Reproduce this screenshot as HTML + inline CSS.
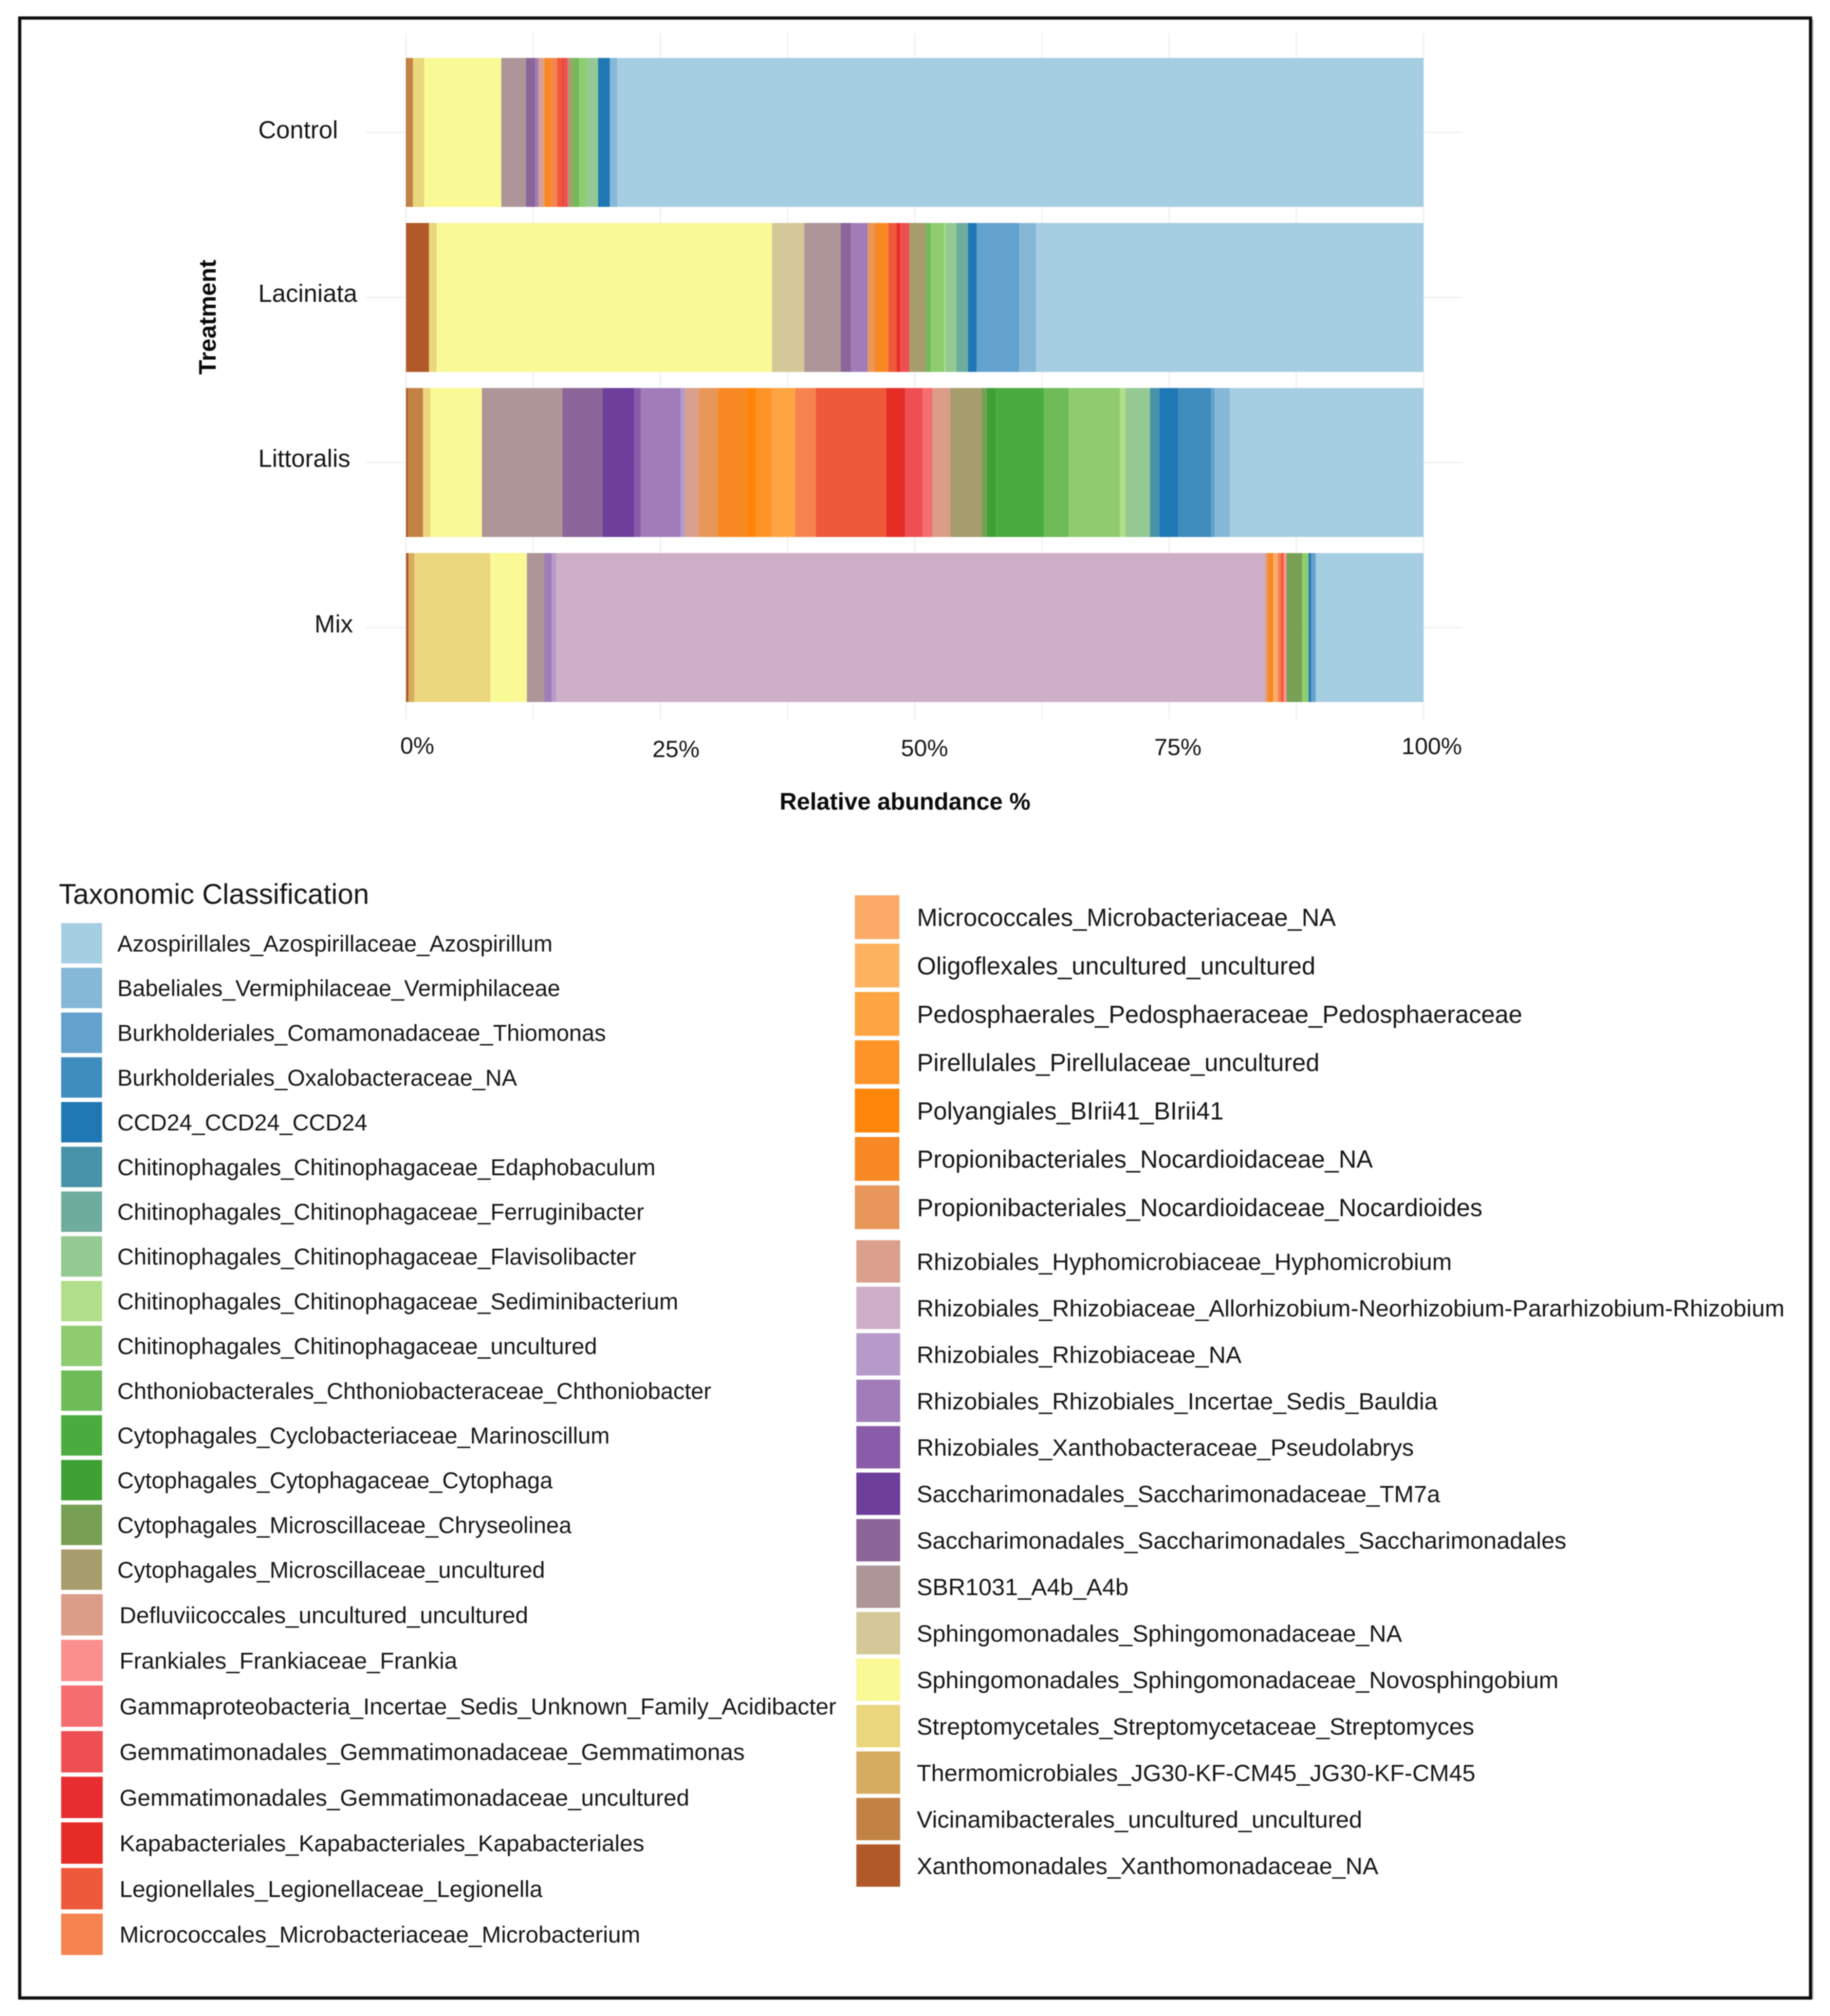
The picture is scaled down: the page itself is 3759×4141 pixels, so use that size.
<!DOCTYPE html>
<html lang="en">
<head>
<meta charset="utf-8">
<title>Relative abundance by treatment</title>
<style>
html,body{margin:0;padding:0;background:#fff;width:3759px;height:4141px;overflow:hidden}
svg{display:block;filter:blur(1px)}
text{font-family:"Liberation Sans",Arial,sans-serif;fill:#151515}
</style>
</head>
<body>
<svg id="figure" xmlns="http://www.w3.org/2000/svg" width="3759" height="4141" viewBox="0 0 3759 4141">
  <rect x="0" y="0" width="3759" height="4141" fill="#fff"/>
  <rect x="3722" y="40" width="3" height="4067" fill="#bbb"/>
  <rect x="40.5" y="37" width="3678.5" height="4067" fill="none" stroke="#0a0a0a" stroke-width="6.5"/>
  <g id="grid"></g>
  <g id="bars"></g>
  <g id="yticks"></g>
  <g id="xticks"></g>
  <text transform="translate(443,651.5) rotate(-90)" text-anchor="middle" font-size="49.4" font-weight="700" style="fill:#0a0a0a">Treatment</text>
  <text x="1859" y="1663" text-anchor="middle" font-size="48.8" font-weight="700" style="fill:#0a0a0a">Relative abundance %</text>
  <text x="121" y="1856.5" font-size="58.2">Taxonomic Classification</text>
  <g id="legend"></g>
</svg>
<script>
const treatments = ["Control", "Laciniata", "Littoralis", "Mix"];
const xTickLabels = ["0%", "25%", "50%", "75%", "100%"];
const xTickValues = [0, 25, 50, 75, 100];
const taxa = [
"Azospirillales_Azospirillaceae_Azospirillum",
"Babeliales_Vermiphilaceae_Vermiphilaceae",
"Burkholderiales_Comamonadaceae_Thiomonas",
"Burkholderiales_Oxalobacteraceae_NA",
"CCD24_CCD24_CCD24",
"Chitinophagales_Chitinophagaceae_Edaphobaculum",
"Chitinophagales_Chitinophagaceae_Ferruginibacter",
"Chitinophagales_Chitinophagaceae_Flavisolibacter",
"Chitinophagales_Chitinophagaceae_Sediminibacterium",
"Chitinophagales_Chitinophagaceae_uncultured",
"Chthoniobacterales_Chthoniobacteraceae_Chthoniobacter",
"Cytophagales_Cyclobacteriaceae_Marinoscillum",
"Cytophagales_Cytophagaceae_Cytophaga",
"Cytophagales_Microscillaceae_Chryseolinea",
"Cytophagales_Microscillaceae_uncultured",
"Defluviicoccales_uncultured_uncultured",
"Frankiales_Frankiaceae_Frankia",
"Gammaproteobacteria_Incertae_Sedis_Unknown_Family_Acidibacter",
"Gemmatimonadales_Gemmatimonadaceae_Gemmatimonas",
"Gemmatimonadales_Gemmatimonadaceae_uncultured",
"Kapabacteriales_Kapabacteriales_Kapabacteriales",
"Legionellales_Legionellaceae_Legionella",
"Micrococcales_Microbacteriaceae_Microbacterium",
"Micrococcales_Microbacteriaceae_NA",
"Oligoflexales_uncultured_uncultured",
"Pedosphaerales_Pedosphaeraceae_Pedosphaeraceae",
"Pirellulales_Pirellulaceae_uncultured",
"Polyangiales_BIrii41_BIrii41",
"Propionibacteriales_Nocardioidaceae_NA",
"Propionibacteriales_Nocardioidaceae_Nocardioides",
"Rhizobiales_Hyphomicrobiaceae_Hyphomicrobium",
"Rhizobiales_Rhizobiaceae_Allorhizobium-Neorhizobium-Pararhizobium-Rhizobium",
"Rhizobiales_Rhizobiaceae_NA",
"Rhizobiales_Rhizobiales_Incertae_Sedis_Bauldia",
"Rhizobiales_Xanthobacteraceae_Pseudolabrys",
"Saccharimonadales_Saccharimonadaceae_TM7a",
"Saccharimonadales_Saccharimonadales_Saccharimonadales",
"SBR1031_A4b_A4b",
"Sphingomonadales_Sphingomonadaceae_NA",
"Sphingomonadales_Sphingomonadaceae_Novosphingobium",
"Streptomycetales_Streptomycetaceae_Streptomyces",
"Thermomicrobiales_JG30-KF-CM45_JG30-KF-CM45",
"Vicinamibacterales_uncultured_uncultured",
"Xanthomonadales_Xanthomonadaceae_NA"
];
const taxaColors = [
"#A6CEE3","#85B7D7","#62A2CC","#3F8CBE","#1F78B4","#4893A9","#6EAD9E","#94C993","#B0DE8A","#8ECC6F",
"#6EBB57","#4AAC3E","#3FA034","#77A054","#A79C6C","#DB9C88","#FB8F8E","#F46E70","#EE4F52","#E72D2F",
"#E52D26","#EE5939","#F5834F","#FBAA67","#FDB25F","#FEA542","#FE9428","#FF8508","#F78824","#E8965A",
"#DBA08C","#CDAFC8","#B69ACA","#A07DB9","#8A5BA8","#6E3F9A","#8B6498","#AE9698","#D4C898","#F9F996",
"#EAD67C","#D6AC60","#C28244","#B15928"
];
const controlValues = [79.26,.71,0,0,1.15,0,0,1.11,0,.75,.6,0,0,0,.52,0,0,0,.45,0,.1,.49,.57,0,0,0,0,0,.69,0,.57,0,0,.35,0,0,.89,2.42,0,7.58,1.11,0,.6,.08];
const laciniataValues = [38.11,1.62,4.18,0,.86,0,1.15,1.07,.12,1.33,.47,0,0,0,1.62,0,0,0,.91,0,.33,.81,0,0,0,0,0,0,1.37,.69,0,0,0,1.62,0,0,1.02,3.59,3.16,32.98,.73,0,0,2.26];
const littoralisValues = [19.03,1.5,.34,3.23,1.87,.91,0,2.41,.55,5.03,2.45,4.76,.85,.52,3.05,1.74,0,.98,1.74,0,1.85,6.92,2.02,0,0,2.31,1.53,.95,2.83,1.86,1.32,0,.46,3.93,.64,3.09,3.96,7.91,0,5.06,.73,0,1.46,.21];
const mixValues = [10.59,0,.45,0,.25,0,0,0,0,.64,0,0,0,1.53,0,0,.29,0,0,0,0,.28,.29,.45,0,0,0,0,.56,0,.28,69.65,.43,.72,0,0,0,1.71,0,3.6,7.47,.57,0,.24];

const NS = "http://www.w3.org/2000/svg";
const seriesByTreatment = [controlValues, laciniataValues, littoralisValues, mixValues];
const xScale = v => 834 + v * 20.9;
const yScale = i => 272 + i * 339;
const BAR_H = 306;

function make(tag, parent, attrs, text) {
  const el = document.createElementNS(NS, tag);
  for (const k in attrs) el.setAttribute(k, attrs[k]);
  if (text !== undefined) el.textContent = text;
  parent.appendChild(el);
  return el;
}

// gridlines
const gridG = document.getElementById("grid");
for (let v = 0; v <= 100; v += 12.5) {
  const l = make("line", gridG, {x1:xScale(v), x2:xScale(v), y1:68, y2:1478, stroke:"#efefef", "stroke-width":2.6});
  
  
}
treatments.forEach((t, i) => {
  const l = make("line", gridG, {x1:751, x2:3005, y1:yScale(i), y2:yScale(i), stroke:"#efefef", "stroke-width":2.6});
  
  
});

// stacked bars: the stack starts from the last taxon in legend order
const barsG = document.getElementById("bars");
treatments.forEach((t, i) => {
  const g = make("g", barsG, {});
  
  
  const values = seriesByTreatment[i];
  let cum = 0;
  for (let k = taxa.length - 1; k >= 0; k--) {
    const v = values[k];
    if (v > 0) {
      const r = make("rect", g, {x:xScale(cum), y:yScale(i) - BAR_H / 2, width:xScale(cum + v) - xScale(cum), height:BAR_H, fill:taxaColors[k]});
      
      
    }
    cum += v;
  }
});

// y labels
const yG = document.getElementById("yticks");
const yLabelLift = [12, 9, 9, 10];
treatments.forEach((t, i) => {
  const el = make("text", yG, {x: t === "Mix" ? 646 : 530.5, y: yScale(i) + yLabelLift[i], "font-size":50.8}, t);
  
  
});

// x labels
const xG = document.getElementById("xticks");
const xLabelShift = [23, 32, 20, 18, 17];
const xLabelBase = [1548, 1555, 1553, 1551, 1549];
xTickLabels.forEach((t, i) => {
  const el = make("text", xG, {x:xScale(xTickValues[i]) + xLabelShift[i], y: xLabelBase[i], "font-size":48.5, "text-anchor":"middle"}, t);
  
  
});

// legend blocks (layout only)
const legendBlocks = [
  {from:0,  to:15, c0:1937.5, step:91.9,  sx:125.6, sw:84,  sh:83, tx:241,   fs:46.9, dy:16.8},
  {from:15, to:23, c0:3317,   step:93.75, sx:125.6, sw:85.4,sh:85, tx:245.5, fs:47.65,dy:16.8},
  {from:23, to:30, c0:1884,   step:99.3,  sx:1756,  sw:91.4,sh:90, tx:1883.5,fs:50.6, dy:18.2},
  {from:30, to:44, c0:2591,   step:95.46, sx:1759,  sw:90,  sh:87, tx:1883,  fs:48.6, dy:17.4}
];
const legendG = document.getElementById("legend");
legendBlocks.forEach(b => {
  for (let k = b.from; k < b.to; k++) {
    const cy = b.c0 + (k - b.from) * b.step;
    const g = make("g", legendG, {});
    
    
    const s = make("rect", g, {x:b.sx, y:cy - b.sh / 2, width:b.sw, height:b.sh, fill:taxaColors[k]});
    
    
    const l = make("text", g, {x:b.tx, y:cy + b.dy, "font-size":b.fs}, taxa[k]);
    
    
  }
});
</script>
</body>
</html>
